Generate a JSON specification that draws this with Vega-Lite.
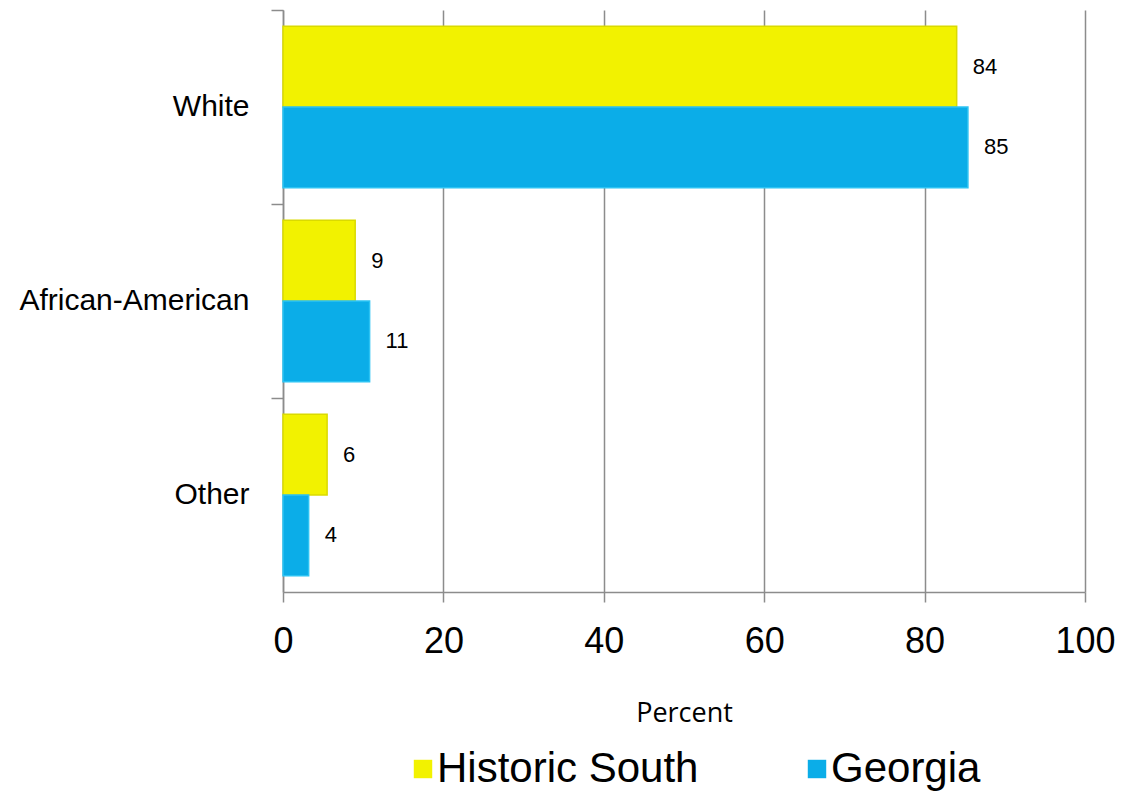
{
  "$schema": "https://vega.github.io/schema/vega-lite/v6.json",
  "width": 802,
  "height": 582,
  "autosize": {"type": "none"},
  "padding": {"left": 283, "top": 10, "right": 37, "bottom": 199},
  "background": "white",
  "config": {
    "view": {"stroke": null},
    "font": "Liberation Sans"
  },
  "data": {
    "values": [
      {"group": "White", "series": "Historic South", "value": 84, "label": "84"},
      {"group": "White", "series": "Georgia", "value": 85.4, "label": "85"},
      {"group": "African-American", "series": "Historic South", "value": 9, "label": "9"},
      {"group": "African-American", "series": "Georgia", "value": 10.8, "label": "11"},
      {"group": "Other", "series": "Historic South", "value": 5.5, "label": "6"},
      {"group": "Other", "series": "Georgia", "value": 3.2, "label": "4"}
    ]
  },
  "encoding": {
    "y": {
      "field": "group",
      "type": "nominal",
      "sort": ["White", "African-American", "Other"],
      "scale": {"paddingInner": 0, "paddingOuter": 0},
      "axis": {
        "title": null,
        "bandPosition": 0,
        "domainColor": "#8c8c8c",
        "domainWidth": 1.5,
        "tickColor": "#8c8c8c",
        "tickWidth": 1.5,
        "tickSize": 12,
        "labelFont": "Liberation Sans",
        "labelFontSize": 30,
        "labelColor": "#000000",
        "labelPadding": 22,
        "labelLimit": 400
      }
    },
    "yOffset": {
      "field": "series",
      "type": "nominal",
      "sort": ["Historic South", "Georgia"],
      "scale": {"paddingOuter": 0.2, "paddingInner": 0}
    },
    "x": {
      "field": "value",
      "type": "quantitative",
      "scale": {"domain": [0, 100], "nice": false},
      "axis": {
        "title": "Percent",
        "titleFont": "Open Sans",
        "titleFontWeight": "normal",
        "titleFontSize": 27,
        "titleColor": "#000000",
        "titlePadding": 41,
        "values": [0, 20, 40, 60, 80, 100],
        "grid": true,
        "gridColor": "#8c8c8c",
        "gridWidth": 1.5,
        "domainColor": "#8c8c8c",
        "domainWidth": 1.5,
        "tickColor": "#8c8c8c",
        "tickWidth": 1.5,
        "tickSize": 10,
        "labelFontSize": 36,
        "labelColor": "#000000",
        "labelPadding": 22,
        "labelFlush": false
      }
    }
  },
  "layer": [
    {
      "mark": {"type": "bar", "strokeWidth": 1.5},
      "encoding": {
        "color": {
          "field": "series",
          "type": "nominal",
          "sort": ["Historic South", "Georgia"],
          "scale": {"domain": ["Historic South", "Georgia"], "range": ["#F2F200", "#0BADE8"]},
          "legend": {
            "title": null,
            "orient": "none",
            "legendX": 119,
            "legendY": 738,
            "direction": "horizontal",
            "symbolType": "square",
            "symbolSize": 340,
            "symbolStrokeWidth": 0,
            "labelFontSize": 42,
            "labelFont": "Liberation Sans",
            "labelColor": "#000000",
            "labelOffset": -7,
            "columnPadding": 97,
            "labelLimit": 400
          }
        },
        "stroke": {
          "field": "series",
          "type": "nominal",
          "scale": {"domain": ["Historic South", "Georgia"], "range": ["#DADA00", "#2CC3F3"]},
          "legend": null
        }
      }
    },
    {
      "mark": {"type": "text", "align": "left", "baseline": "middle", "dx": 16, "fontSize": 22, "color": "#000000"},
      "encoding": {
        "text": {"field": "label"}
      }
    }
  ]
}
